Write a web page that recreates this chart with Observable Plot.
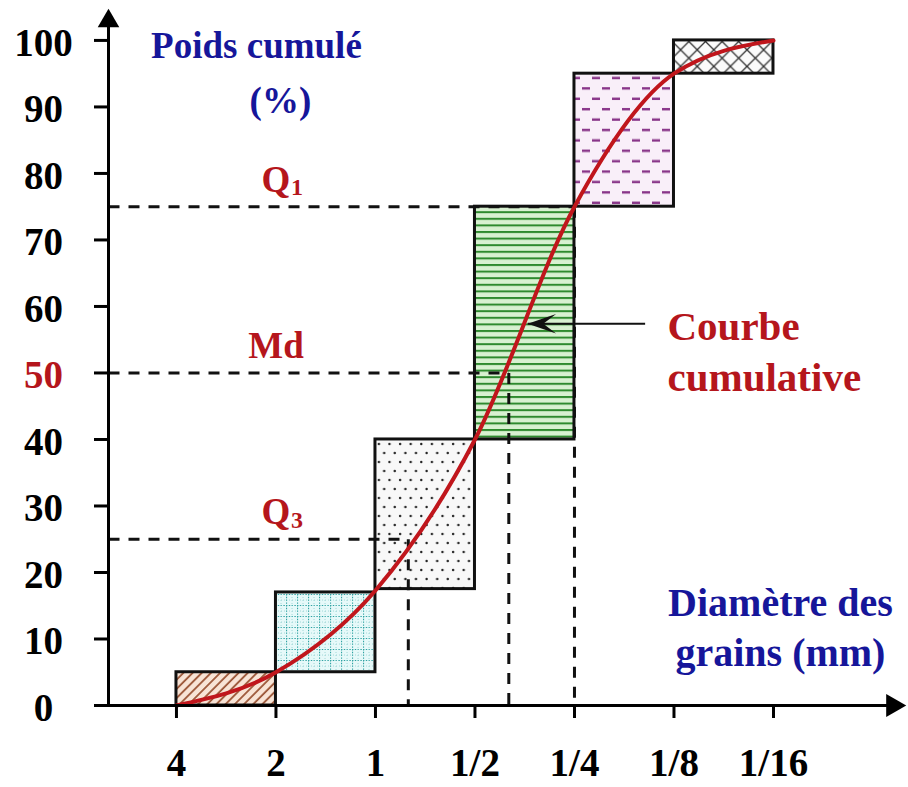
<!DOCTYPE html>
<html><head><meta charset="utf-8">
<script src="https://cdn.jsdelivr.net/npm/d3@7"></script>
<script src="https://cdn.jsdelivr.net/npm/@observablehq/plot@0.6"></script>
<style>body{margin:0;background:#fff} svg{display:block}</style>
</head><body><div id="chart"></div>
<script>
// ---- data ----
const phiTicks = [-2, -1, 0, 1, 2, 3, 4];
const sizeLabels = ["4", "2", "1", "1/2", "1/4", "1/8", "1/16"];
const yTicks = [0, 10, 20, 30, 40, 50, 60, 70, 80, 90, 100];
const boxFrom = [-2, -1, 0, 1, 2, 3];
const boxTo = [-1, 0, 1, 2, 3, 4];
const boxLow = [0, 5, 17.5, 40, 75, 95];
const boxHigh = [5, 17, 40, 75, 95, 100];
const boxPattern = ["hatch", "grid", "dots", "lines", "dashes", "cross"];
const curvePhi = [-2, -1, 0, 1, 2, 3, 4];
const curvePct = [0, 5, 17.3, 40, 75, 95, 100];
const quartName = ["Q", "Md", "Q"];
const quartSub = ["1", "", "3"];
const quartPct = [75, 50, 25];
const quartPhi = [2, 1.34, 0.33];

const RED = "#b5161c", BLUE = "#16169a", CURVE = "#c0161c";
const FONT = "Liberation Serif, Times New Roman, serif";
const xMin = -2.683, xMax = 5.176, yMax = 104.5;
const xArrow = 5.2, yArrow = 102.9;

const boxes = boxFrom.map((d, i) => ({x1: d, x2: boxTo[i], y1: boxLow[i], y2: boxHigh[i], fill: `url(#${boxPattern[i]})`}));
const curve = curvePhi.map((d, i) => ({phi: d, pct: curvePct[i]}));
const quarts = quartPct.map((p, i) => ({p, phi: quartPhi[i], name: quartName[i], sub: quartSub[i]}));
const xt = phiTicks.map((d, i) => ({phi: d, label: sizeLabels[i]}));
const notes = [
  {phi: -1.196, y: 99.2, text: "Poids cumulé", fill: BLUE, size: 37},
  {phi: -0.955, y: 90.8, text: "(%)", fill: BLUE, size: 37},
  {phi: 4.07, y: 15.4, text: "Diamètre des", fill: BLUE, size: 40},
  {phi: 4.07, y: 7.9, text: "grains (mm)", fill: BLUE, size: 40}
];
const courbe = [
  {phi: 2.935, y: 57.0, text: "Courbe"},
  {phi: 2.935, y: 49.3, text: "cumulative"}
];
const pointer = [{x1: 2.71, y1: 57.4, x2: 1.53, y2: 57.4}];

// filled dart arrowhead pointing left (tip at origin)
const dart = {
  draw(ctx, size) {
    const s = Math.sqrt(size) * 1.6;
    ctx.moveTo(0, 0);
    ctx.lineTo(s, -s * 0.34);
    ctx.lineTo(s * 0.55, 0);
    ctx.lineTo(s, s * 0.34);
    ctx.closePath();
  }
};

const defs = () => {
  const g = document.createElementNS("http://www.w3.org/2000/svg", "defs");
  g.innerHTML = `
  <pattern id="hatch" patternUnits="userSpaceOnUse" width="6.5" height="6.5" patternTransform="rotate(45)">
    <rect width="6.5" height="6.5" fill="#f8e4d6"/>
    <line x1="1" y1="0" x2="1" y2="6.5" stroke="#9b5536" stroke-width="1.8"/>
  </pattern>
  <pattern id="grid" patternUnits="userSpaceOnUse" width="11" height="11">
    <rect width="11" height="11" fill="#e6f9f9"/>
    <path d="M0 0.5H11M0.5 0V11" stroke="#2fa3a3" stroke-width="1.2" stroke-dasharray="1.4 1.4"/>
    <path d="M0 6H11M6 0V11" stroke="#8fd0d0" stroke-width="0.8" stroke-dasharray="1 2"/>
  </pattern>
  <pattern id="dots" patternUnits="userSpaceOnUse" width="10.6" height="18">
    <rect width="10.6" height="18" fill="#f8f8f8"/>
    <circle cx="2.6" cy="3" r="1.2" fill="#222"/>
    <circle cx="7.9" cy="12" r="1.2" fill="#222"/>
  </pattern>
  <pattern id="lines" patternUnits="userSpaceOnUse" width="10" height="6.6">
    <rect width="10" height="6.6" fill="#d8f1d1"/>
    <rect y="0" width="10" height="2" fill="#2e8a2e"/>
  </pattern>
  <pattern id="dashes" patternUnits="userSpaceOnUse" width="20" height="20.8">
    <rect width="20" height="20.8" fill="#f9eff9"/>
    <rect x="2" y="4" width="8" height="2.4" fill="#883388"/>
    <rect x="12" y="14.4" width="8" height="2.4" fill="#883388"/>
  </pattern>
  <pattern id="cross" patternUnits="userSpaceOnUse" width="16.6" height="16.6">
    <rect width="16.6" height="16.6" fill="#fbfbfb"/>
    <path d="M0 0L16.6 16.6M16.6 0L0 16.6" stroke="#333" stroke-width="1.3"/>
  </pattern>`;
  return g;
};

const chart = Plot.plot({
  width: 908,
  height: 787,
  marginLeft: 108,
  marginRight: 18,
  marginTop: 10,
  marginBottom: 82,
  style: {background: "#fff", color: "#000", fontFamily: FONT},
  x: {domain: [xMin, xMax]},
  y: {domain: [0, yMax]},
  color: {type: "identity"},
  marks: [
    defs,
    Plot.rect(boxes, {x1: "x1", x2: "x2", y1: "y1", y2: "y2", fill: "fill", stroke: "#111", strokeWidth: 3}),
    // dashed quartile guides
    Plot.link(quarts, {x1: xMin, y1: "p", x2: "phi", y2: "p", stroke: "#111", strokeWidth: 3, strokeDasharray: "11,9"}),
    Plot.link(quarts, {x1: "phi", y1: "p", x2: "phi", y2: 0, stroke: "#111", strokeWidth: 3, strokeDasharray: "11,9"}),
    // cumulative curve
    Plot.line(curve, {x: "phi", y: "pct", curve: "monotone-x", stroke: CURVE, strokeWidth: 4}),
    // axes lines + arrowheads
    Plot.ruleY([0], {x1: xMin, x2: xArrow, stroke: "#000", strokeWidth: 3}),
    Plot.ruleX([xMin], {y1: 0, y2: yArrow, stroke: "#000", strokeWidth: 3}),
    Plot.dot([0], {x: xArrow, y: 0, symbol: "triangle", r: 8.6, fill: "#000", rotate: 90}),
    Plot.dot([0], {x: xMin, y: yArrow, symbol: "triangle", r: 8, fill: "#000"}),
    Plot.axisY(yTicks, {tickSize: 14, strokeWidth: 3, tickFormat: () => "", label: null}),
    Plot.axisX(phiTicks, {tickSize: 13, strokeWidth: 3, tickFormat: () => "", label: null}),
    // tick labels
    Plot.text(yTicks, {y: d => d, frameAnchor: "left", dx: -65, dy: 3, text: d => String(d), textAnchor: "middle", fontSize: 39, fontWeight: "bold", fill: d => d === 50 ? RED : "#000"}),
    Plot.text(xt, {x: "phi", frameAnchor: "bottom", dy: 70, text: "label", textAnchor: "middle", fontSize: 39, fontWeight: "bold", fill: "#000"}),
    // quartile labels
    Plot.text(quarts, {x: -1.0, y: "p", dy: -27, text: "name", textAnchor: "middle", fontSize: 37, fontWeight: "bold", fill: RED}),
    Plot.text(quarts.filter(d => d.sub), {x: -1.0, y: "p", dx: 15, dy: -19, text: "sub", textAnchor: "start", fontSize: 24, fontWeight: "bold", fill: RED}),
    // annotations
    Plot.text(notes, {x: "phi", y: "y", text: "text", textAnchor: "middle", fontSize: d => d.size, fontWeight: "bold", fill: "fill"}),
    Plot.text(courbe, {x: "phi", y: "y", text: "text", textAnchor: "start", fontSize: 41, fontWeight: "bold", fill: RED}),
    Plot.link(pointer, {x1: "x1", y1: "y1", x2: "x2", y2: "y2", stroke: "#111", strokeWidth: 2}),
    Plot.dot(pointer, {x: "x2", y: "y2", symbol: dart, r: 10, fill: "#111", stroke: "none"})
  ]
});
document.getElementById("chart").appendChild(chart);
</script>
</body></html>
